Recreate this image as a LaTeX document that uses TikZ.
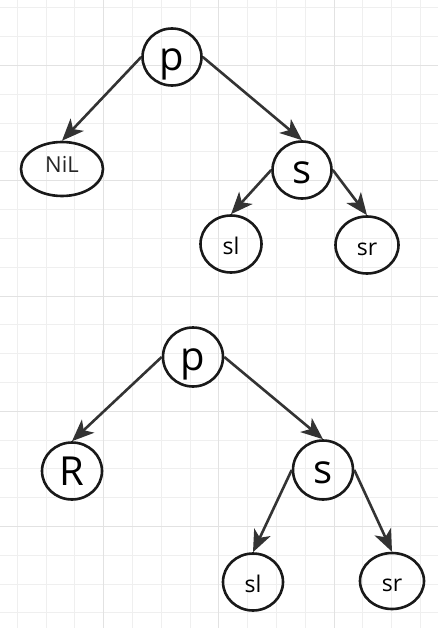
\documentclass[tikz,border=0pt]{standalone}
\usepackage{fontspec}
\setmainfont{Open Sans}
\usetikzlibrary{arrows.meta,shapes.geometric}
\definecolor{gridminor}{HTML}{EFEFEF}
\definecolor{gridmajor}{HTML}{E2E2E2}
\definecolor{edgegray}{HTML}{333333}
\begin{document}
\begin{tikzpicture}[x=1pt,y=-1pt,
        vert/.style={ellipse,draw=black!90,line width=2.6pt,inner sep=0pt,
            minimum width=59pt,minimum height=57pt,
            font=\fontsize{40}{40}\selectfont,text height=31pt,text depth=4pt},
        leaf/.style={vert,font=\fontsize{23}{23}\selectfont,text height=21pt,text depth=0pt},
        arr/.style={draw=edgegray,line width=2.6pt,-{Stealth[length=22pt,width=18pt,inset=6pt]}}]
        \useasboundingbox (0,0) rectangle (438,628);
        \fill[white] (0,0) rectangle (438,628);
        % grid
        \foreach \k in {0,...,14}
            \draw[gridminor,line width=1pt] ({17.3+28.8*\k},0) -- ({17.3+28.8*\k},628);
        \foreach \k in {0,...,21}
            \draw[gridminor,line width=1pt] (0,{8+28.8*\k}) -- (438,{8+28.8*\k});
        \foreach \k in {3,7,11}
            \draw[gridmajor,line width=1pt] ({17.3+28.8*\k},0) -- ({17.3+28.8*\k},628);
        \foreach \k in {2,6,10,14,18}
            \draw[gridmajor,line width=1pt] (0,{8+28.8*\k}) -- (438,{8+28.8*\k});
        % first tree
        \node[vert] (p1) at (172,57) {p};
        \node[vert,minimum width=82pt,minimum height=54pt,
            font=\fontsize{22}{22}\selectfont,text height=16pt,text depth=8pt,text=black!85] (nil1) at (62,169) {NiL};
        \node[vert] (s1) at (302,170) {s};
        \node[leaf,minimum width=61pt] (sl1) at (231,244) {sl};
        \node[leaf,minimum width=63pt] (sr1) at (367,245) {sr};
        \draw[arr] (p1.west) -- (nil1.north);
        \draw[arr] (p1.east) -- (s1.north);
        \draw[arr] (s1.west) -- (sl1.north);
        \draw[arr] (s1.east) -- (sr1.north);
        % second tree
        \node[vert,minimum width=60pt,minimum height=59pt] (p2) at (193,357) {p};
        \node[vert,minimum width=60pt,text height=33pt] (r2) at (72,471) {R};
        \node[vert,minimum width=60pt,minimum height=59pt] (s2) at (323,470) {s};
        \node[leaf,minimum width=60pt] (sl2) at (253,582) {sl};
        \node[leaf,minimum width=64pt,minimum height=56pt] (sr2) at (392,581) {sr};
        \draw[arr] (p2.west) -- (r2.north);
        \draw[arr] (p2.east) -- (s2.north);
        \draw[arr] (s2.west) -- (sl2.north);
        \draw[arr] (s2.east) -- (sr2.north);
\end{tikzpicture}
\end{document}
